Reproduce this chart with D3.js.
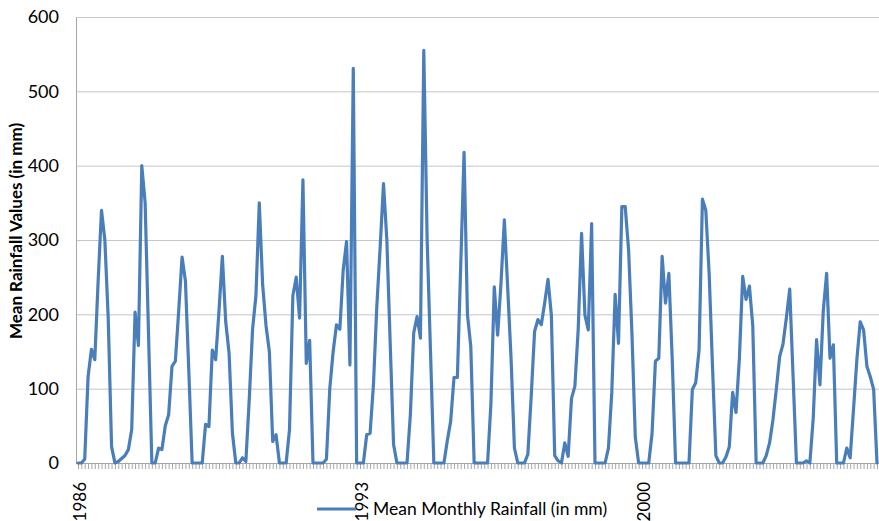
<!DOCTYPE html>
<html>
<head>
<meta charset="utf-8">
<script src="https://cdn.jsdelivr.net/npm/d3@7"></script>
<style>
  body { margin: 0; background: #ffffff; }
  text { font-family: Lato, "Open Sans", "DejaVu Sans", sans-serif; }
</style>
</head>
<body>
<svg id="chart" width="879" height="521"></svg>
<script>
// Monthly mean rainfall (mm), January 1986 onwards, one row per year
const startYear = 1986;
const monthlyRainfall = [
  0, 0, 5, 116, 153, 139, 245, 340, 300, 195, 22, 0,        // 1986
  2, 6, 10, 18, 45, 203, 158, 400, 350, 175, 0, 0,          // 1987
  20, 18, 50, 65, 130, 137, 205, 277, 245, 125, 0, 0,       // 1988
  0, 0, 52, 49, 152, 139, 205, 278, 190, 148, 40, 0,        // 1989
  0, 7, 2, 85, 180, 225, 350, 240, 185, 150, 29, 38,        // 1990
  0, 0, 0, 45, 225, 250, 195, 381, 134, 165, 0, 0,          // 1991
  0, 0, 5, 100, 150, 186, 180, 260, 298, 132, 531, 0,       // 1992
  0, 0, 38, 40, 105, 210, 290, 376, 300, 160, 25, 0,        // 1993
  0, 0, 0, 65, 175, 197, 168, 555, 300, 150, 0, 0,          // 1994
  0, 0, 30, 56, 115, 115, 265, 418, 200, 157, 0, 0,         // 1995
  0, 0, 0, 80, 237, 172, 242, 327, 235, 140, 20, 0,         // 1996
  0, 0, 12, 90, 177, 193, 186, 215, 247, 199, 10, 3,        // 1997
  0, 27, 9, 87, 103, 180, 309, 199, 179, 322, 0, 0,         // 1998
  0, 0, 20, 95, 227, 161, 345, 345, 287, 175, 35, 0,        // 1999
  0, 0, 0, 40, 137, 141, 278, 215, 255, 140, 0, 0,          // 2000
  0, 0, 0, 99, 108, 152, 355, 340, 255, 130, 10, 0,         // 2001
  0, 8, 22, 95, 68, 140, 251, 220, 238, 184, 0, 0,          // 2002
  0, 10, 27, 58, 99, 143, 160, 195, 234, 117, 0, 0,         // 2003
  0, 3, 0, 60, 166, 105, 205, 255, 141, 159, 0, 0,          // 2004
  0, 20, 7, 72, 139, 190, 179, 130, 116, 99, 0              // 2005
];
const monthNames = ["Jan", "Feb", "Mar", "Apr", "May", "Jun",
                    "Jul", "Aug", "Sep", "Oct", "Nov", "Dec"];
const yTicks = [0, 100, 200, 300, 400, 500, 600];
const yearLabels = ["1986", "1993", "2000"];
const seriesName = "Mean Monthly Rainfall (in mm)";
const yTitle = "Mean Rainfall Values (in mm)";

const categories = monthlyRainfall.map((_, i) =>
  `${monthNames[i % 12]} ${startYear + Math.floor(i / 12)}`);
const data = monthlyRainfall.map((v, i) => ({ month: categories[i], value: v }));

const lineColor = "#4a7ebb";
const gridColor = "#c6c6c6";
const axisColor = "#a6a6a6";

const svg = d3.select("#chart");
const plot = { left: 76, right: 879, top: 17, bottom: 463 };

const x = d3.scalePoint().domain(categories).range([78, 877]);
const y = d3.scaleLinear().domain([0, 600]).range([plot.bottom, plot.top]);

// horizontal gridlines
svg.append("g")
  .attr("transform", `translate(${plot.left},0)`)
  .call(d3.axisLeft(y).tickValues(yTicks).tickSize(-(plot.right - plot.left)).tickFormat(""))
  .call(g => g.select(".domain").remove())
  .call(g => g.selectAll("line").attr("stroke", gridColor).attr("stroke-width", 1));

// y axis labels
svg.append("g")
  .attr("transform", `translate(${plot.left},0)`)
  .call(d3.axisLeft(y).tickValues(yTicks).tickSize(0).tickPadding(17))
  .call(g => g.select(".domain").attr("stroke", axisColor))
  .call(g => g.selectAll("text")
    .attr("fill", "#000")
    .style("font-size", "18px"));

// x axis with a tick per month, year labels every seven years
const xAxis = svg.append("g")
  .attr("transform", `translate(0,${plot.bottom})`)
  .call(d3.axisBottom(x).tickSize(6).tickSizeOuter(0)
    .tickFormat(d => (d.startsWith("Jan") && yearLabels.includes(d.slice(4))) ? d.slice(4) : ""));
xAxis.select(".domain").attr("stroke", axisColor).attr("d", `M${plot.left},0.5H${plot.right}`);
xAxis.selectAll(".tick line").attr("stroke", axisColor).attr("stroke-width", 1);
xAxis.selectAll("text")
  .attr("transform", "rotate(-90)")
  .attr("text-anchor", "end")
  .attr("x", -19)
  .attr("y", 7.5)
  .attr("dy", 0)
  .attr("fill", "#000")
  .style("font-size", "17px");

// rainfall line
svg.append("path")
  .datum(data)
  .attr("fill", "none")
  .attr("stroke", lineColor)
  .attr("stroke-width", 3.2)
  .attr("stroke-linejoin", "round")
  .attr("stroke-linecap", "round")
  .attr("d", d3.line().x(d => x(d.month)).y(d => y(d.value)));

// y axis title
svg.append("text")
  .attr("transform", "translate(22,231) rotate(-90)")
  .attr("text-anchor", "middle")
  .style("font-size", "17px")
  .style("font-weight", "bold")
  .attr("fill", "#000")
  .text(yTitle);

// legend
const legend = svg.append("g");
legend.append("line")
  .attr("x1", 317).attr("x2", 356).attr("y1", 509).attr("y2", 509)
  .attr("stroke", lineColor).attr("stroke-width", 3.2);
legend.append("text")
  .attr("x", 373).attr("y", 515)
  .style("font-size", "17.5px")
  .attr("fill", "#000")
  .text(seriesName);
</script>
</body>
</html>
